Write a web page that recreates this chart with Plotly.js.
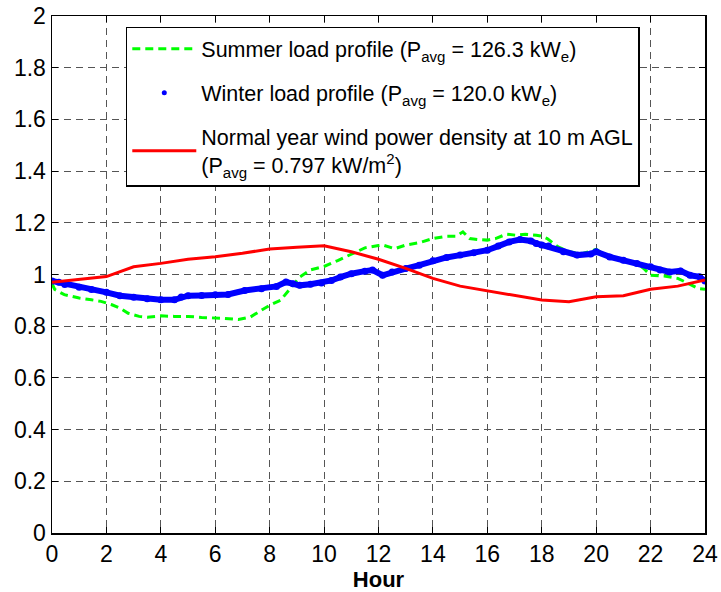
<!DOCTYPE html>
<html>
<head>
<meta charset="utf-8">
<script src="https://cdn.plot.ly/plotly-3.0.1.min.js"></script>
<style>html,body{margin:0;padding:0;background:#fff;}#chart{width:721px;height:592px;}</style>
</head>
<body>
<div id="chart"></div>
<script>
// Normal year wind power density (hourly, normalised)
const windHours = [0,1,2,3,4,5,6,7,8,9,10,11,12,13,14,15,16,17,18,19,20,21,22,23,24];
const windValues = [0.970,0.980,0.992,1.030,1.043,1.059,1.069,1.082,1.099,1.105,1.111,1.088,1.059,1.024,0.985,0.955,0.937,0.917,0.901,0.895,0.914,0.918,0.943,0.955,0.979];

// Summer load profile (normalised)
const summerHours = [0,0.1,0.45,1.0,1.45,1.8,2.2,2.5,2.8,3.2,3.5,4.0,4.5,5.0,5.5,5.85,6.35,6.85,7.3,7.7,8.0,8.4,8.7,9.1,9.5,10.0,10.5,11.0,11.5,12.0,12.15,12.6,13.0,13.5,14.0,14.5,14.85,15.1,15.35,15.7,16.0,16.3,16.7,17.05,17.4,17.8,18.0,18.2,18.6,19.0,19.5,20.0,20.5,21.0,21.5,21.75,22.0,22.5,23.0,23.4,23.75,24.0];
const summerValues = [0.965,0.942,0.922,0.909,0.902,0.896,0.883,0.870,0.850,0.838,0.835,0.840,0.838,0.838,0.834,0.833,0.830,0.826,0.836,0.862,0.881,0.900,0.938,0.990,1.018,1.031,1.054,1.079,1.103,1.112,1.114,1.100,1.114,1.123,1.139,1.148,1.148,1.165,1.139,1.135,1.133,1.139,1.156,1.152,1.156,1.152,1.148,1.139,1.107,1.088,1.081,1.097,1.068,1.055,1.043,1.023,0.997,0.994,0.985,0.965,0.946,0.943];

// Winter load profile (normalised)
const winterHours = [0,0.25,0.47,1.0,1.45,2.0,2.5,3.0,3.5,4.0,4.5,4.75,5.0,5.5,6.0,6.47,7.08,7.7,8.25,8.6,8.86,9.1,9.5,9.9,10.27,10.6,11.0,11.5,11.78,12.15,12.5,13.0,13.5,14.0,14.5,15.0,15.5,16.0,16.4,16.8,17.2,17.6,17.8,18.0,18.25,18.8,19.3,19.8,20.0,20.5,21.0,21.5,22.0,22.35,22.7,23.1,23.45,23.8,24.0];
const winterValues = [0.975,0.970,0.961,0.951,0.942,0.931,0.918,0.912,0.906,0.902,0.902,0.913,0.918,0.919,0.922,0.923,0.938,0.945,0.954,0.971,0.964,0.958,0.962,0.967,0.977,0.990,1.003,1.013,1.017,0.997,1.010,1.023,1.036,1.053,1.066,1.075,1.084,1.094,1.110,1.126,1.135,1.130,1.120,1.114,1.110,1.088,1.075,1.079,1.088,1.068,1.055,1.043,1.030,1.017,1.010,1.014,0.997,0.991,0.975];

const xTicks = [0,2,4,6,8,10,12,14,16,18,20,22,24];
const yTicks = [0,0.2,0.4,0.6,0.8,1,1.2,1.4,1.6,1.8,2];

const summerName = 'Summer load profile (P<sub>avg</sub> = 126.3 kW<sub>e</sub>)';
const winterName = 'Winter load profile (P<sub>avg</sub> = 120.0 kW<sub>e</sub>)';
const windName = 'Normal year wind power density at 10 m AGL<br>(P<sub>avg</sub> = 0.797 kW/m<sup>2</sup>)';

const FONT = 'Liberation Sans, Arial, sans-serif';

const traces = [
  {x: summerHours, y: summerValues, mode: 'lines', name: summerName, legendrank: 1, legendgroup: 'a',
   line: {color: '#00ff00', width: 3, dash: '8px,5px'}},
  {x: winterHours, y: winterValues, mode: 'lines+markers', name: winterName, showlegend: false,
   line: {color: '#0000ff', width: 6}, marker: {color: '#0000ff', size: 7}},
  {x: [null], y: [null], mode: 'markers', name: winterName, legendrank: 2, legendgroup: 'b',
   marker: {color: '#0000ff', size: 5}},
  {x: windHours, y: windValues, mode: 'lines', name: windName, legendrank: 3, legendgroup: 'c',
   line: {color: '#ff0000', width: 3}}
];

const axisCommon = {
  showline: true, linecolor: '#000', linewidth: 1.5, mirror: 'ticks',
  ticks: 'inside', ticklen: 6, tickcolor: '#000', tickwidth: 1,
  showgrid: true, gridcolor: '#555', gridwidth: 1, griddash: '7px,5px',
  zeroline: false, tickfont: {family: FONT, size: 23, color: '#000'}
};

const layout = {
  width: 721, height: 592,
  margin: {l: 52, r: 16, t: 16, b: 59},
  paper_bgcolor: '#fff', plot_bgcolor: '#fff',
  showlegend: true,
  font: {family: FONT, size: 22, color: '#000'},
  xaxis: Object.assign({}, axisCommon, {range: [0, 24], tickvals: xTicks, automargin: false,
    title: {text: '<b>Hour</b>', font: {size: 22}, standoff: 3}}),
  yaxis: Object.assign({}, axisCommon, {range: [0, 2], tickvals: yTicks, automargin: false}),
  legend: {x: 0.113, y: 0.979, xanchor: 'left', yanchor: 'top', bgcolor: '#fff',
    bordercolor: '#000', borderwidth: 1.5, tracegroupgap: 13, traceorder: 'grouped',
    itemwidth: 64,
    font: {family: FONT, size: 21.5, color: '#000'}}
};

Plotly.newPlot('chart', traces, layout, {displayModeBar: false, staticPlot: true});
</script>
</body>
</html>
